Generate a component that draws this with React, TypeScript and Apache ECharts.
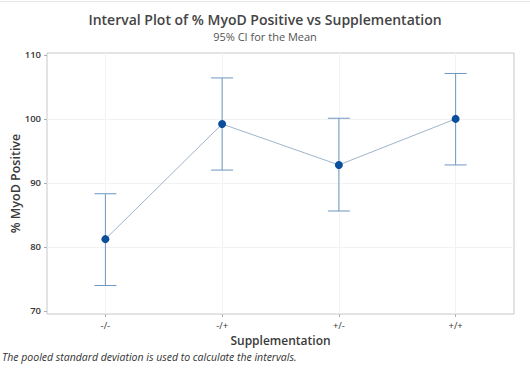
import React, { useEffect, useRef } from "react";
import * as echarts from "echarts";

const categories = ["-/-", "-/+", "+/-", "+/+"];
const means = [81.2, 99.2, 92.8, 100.0];
const lowerCI = [73.95, 92.0, 85.6, 92.8];
const upperCI = [88.3, 106.4, 100.1, 107.1];
const yTicks = [70, 80, 90, 100, 110];

const FONT = "'Open Sans', 'Noto Sans', sans-serif";

export default function App() {
  const ref = useRef<HTMLDivElement>(null);
  useEffect(() => {
    document.body.style.margin = "0";
    if (!ref.current) return;
    const chart = echarts.init(ref.current, null, { renderer: "svg" });
    const errData = categories.map((c, i) => [i, lowerCI[i], upperCI[i]]);
    const option: any = {
      animation: false,
      backgroundColor: "#ffffff",
      title: {
        text: "Interval Plot of % MyoD Positive vs Supplementation",
        subtext: "95% CI for the Mean",
        left: "center",
        top: 5,
        itemGap: 2,
        textStyle: { fontFamily: FONT, fontSize: 14, fontWeight: 600, color: "#444444", lineHeight: 18 },
        subtextStyle: { fontFamily: FONT, fontSize: 11, color: "#555555", lineHeight: 13 },
      },
      grid: {
        left: 47,
        right: 16,
        top: 53,
        bottom: 54,
        outerBoundsMode: "none",
        containLabel: false,
        show: true,
        borderColor: "#c8c8c8",
        borderWidth: 1,
        backgroundColor: "#ffffff",
      },
      xAxis: {
        type: "category",
        data: categories,
        boundaryGap: true,
        name: "Supplementation",
        nameLocation: "middle",
        nameGap: 20,
        nameMoveOverlap: false,
        nameTextStyle: { fontFamily: FONT, fontSize: 12, fontWeight: 600, color: "#3a3a3a" },
        axisLine: { show: false },
        axisTick: { show: true, alignWithLabel: true, length: 3, lineStyle: { color: "#b0b0b0" } },
        axisLabel: { fontFamily: FONT, fontSize: 9.5, color: "#333333", margin: 6 },
        splitLine: { show: false },
      },
      yAxis: {
        type: "value",
        min: 69.5,
        max: 110.3,
        name: "% MyoD Positive",
        nameLocation: "middle",
        nameRotate: 90,
        nameGap: 25,
        nameMoveOverlap: false,
        nameTextStyle: { fontFamily: FONT, fontSize: 12.5, fontWeight: 600, color: "#3a3a3a" },
        axisLine: { show: false },
        axisTick: { show: true, length: 3, customValues: yTicks, lineStyle: { color: "#b0b0b0" } },
        axisLabel: { fontFamily: FONT, fontSize: 9.5, fontWeight: 600, color: "#333333", margin: 6, customValues: yTicks },
        splitLine: { show: false },
      },
      graphic: [
        {
          type: "line",
          shape: { x1: 0, y1: 1.5, x2: 530, y2: 1.5 },
          style: { stroke: "#e6e6e6", lineWidth: 1 },
        },
        {
          type: "text",
          left: 2,
          top: 351,
          style: {
            text: "The pooled standard deviation is used to calculate the intervals.",
            font: "italic 10.5px " + FONT,
            fill: "#333333",
          },
        },
      ],
      series: [
        {
          type: "line",
          data: means,
          symbol: "circle",
          symbolSize: 8,
          z: 4,
          itemStyle: { color: "#0b4f9c" },
          lineStyle: { color: "#9fb3cc", width: 1 },
          markLine: {
            silent: true,
            symbol: "none",
            label: { show: false },
            lineStyle: { color: "#f2f2f2", width: 1, type: "solid" },
            z: 1,
            data: [
              ...yTicks.slice(1, 4).map((v) => ({ yAxis: v })),
              ...categories.map((c) => ({ xAxis: c })),
            ],
          },
        },
        {
          type: "custom",
          data: errData,
          z: 3,
          renderItem: (params: any, api: any) => {
            const x = api.value(0);
            const lo = api.coord([x, api.value(1)]);
            const hi = api.coord([x, api.value(2)]);
            const hw = 11;
            const style = { stroke: "#6f96c0", lineWidth: 1 };
            return {
              type: "group",
              children: [
                { type: "line", shape: { x1: lo[0], y1: lo[1], x2: hi[0], y2: hi[1] }, style },
                { type: "line", shape: { x1: hi[0] - hw, y1: hi[1], x2: hi[0] + hw, y2: hi[1] }, style },
                { type: "line", shape: { x1: lo[0] - hw, y1: lo[1], x2: lo[0] + hw, y2: lo[1] }, style },
              ],
            };
          },
        },
      ],
    };
    chart.setOption(option);
    return () => chart.dispose();
  }, []);
  return <div ref={ref} style={{ width: 530, height: 368 }} />;
}
